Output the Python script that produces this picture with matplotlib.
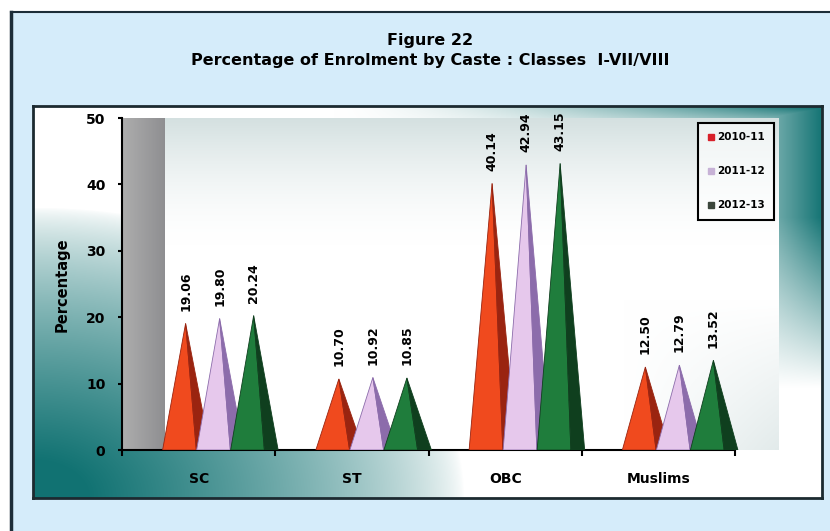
import matplotlib
matplotlib.use('Agg')
import numpy as np
import matplotlib.pyplot as plt
from matplotlib.patches import Polygon, Rectangle
from matplotlib.lines import Line2D

castes = ['SC', 'ST', 'OBC', 'Muslims']
years = ['2010-11', '2011-12', '2012-13']
pct_2010 = [19.06, 10.70, 40.14, 12.50]
pct_2011 = [19.80, 10.92, 42.94, 12.79]
pct_2012 = [20.24, 10.85, 43.15, 13.52]

front_cols = ['#f04a1e', '#e6c8ec', '#1f7d3c']
side_cols = ['#9a2410', '#8c6cab', '#0f3f1e']
legend_cols = ['#d8202a', '#c7b2d6', '#3b463b']

plt.rcParams['font.family'] = 'DejaVu Sans'
plt.rcParams['font.weight'] = 'bold'

W, H = 830, 531
fig = plt.figure(figsize=(W / 100, H / 100), dpi=100, facecolor='white')

def fx(px):
    return px / W

def fy(py):
    return 1 - py / H

# light blue page frame
fig.patches.append(Rectangle((fx(11), 0), 1, fy(12), transform=fig.transFigure,
                             facecolor='#d5ecfa', edgecolor='none', zorder=-5))
fig.add_artist(Line2D([fx(11), fx(11)], [0, fy(12)], color='#1d2d38', lw=2.5, zorder=-4))
fig.add_artist(Line2D([fx(11), 1], [fy(12), fy(12)], color='#1d2d38', lw=1.5, zorder=-4))

# panel with teal corner gradients
px0, px1, py0, py1 = 33, 822, 106, 498
bg = fig.add_axes([fx(px0), fy(py1), fx(px1 - px0), (py1 - py0) / H])
bg.set_zorder(-1)
Xp, Yp = np.meshgrid(np.arange(px1 - px0), np.arange(py1 - py0))
r = np.sqrt((Xp / 430.0) ** 2 + (Yp / 290.0) ** 2)
t1 = np.clip(1.15 * (1 - r), 0, 1) ** 0.7
t2 = np.clip(1 - (px1 - px0 - Xp) / 120.0, 0, 1) * np.clip((Yp - 110) / 170.0, 0, 1)
t3 = np.clip((Xp - 300) / 480.0, 0, 1) ** 1.5 * np.clip((Yp - 360) / 30.0, 0, 1)
t = np.clip(np.maximum(np.maximum(t1, t2), t3), 0, 1)
teal = np.array([0.07, 0.45, 0.45])
img = (1 - t[..., None]) * 1.0 + t[..., None] * teal
bg.imshow(img, origin='lower', extent=[0, 1, 0, 1], aspect='auto')
bg.set_xticks([])
bg.set_yticks([])
for s in bg.spines.values():
    s.set_color('#1c2a30')
    s.set_linewidth(2)

# chart area
ax_l, ax_r, ax_b, ax_t = 122, 778, 450, 118
ax = fig.add_axes([fx(ax_l), fy(ax_b), fx(ax_r - ax_l), (ax_b - ax_t) / H])
ax.patch.set_alpha(0)
cat_w = (735 - 122) / 4.0
xmax = (ax_r - ax_l) / cat_w
wall = (165 - 122) / cat_w
ax.set_xlim(0, xmax)
ax.set_ylim(0, 50)

# back plane gradient
gx, gy = np.meshgrid(np.linspace(0, 1, 300), np.linspace(0, 1, 200))
a_top = np.clip((gy - 0.62) / 0.38, 0, 1) ** 1.6 * 0.6
a_br = np.clip((gx - 0.75) / 0.25, 0, 1) * np.clip((0.45 - gy) / 0.45, 0, 1) * 0.4
a = np.maximum(a_top, a_br)
grey = np.array([0.72, 0.80, 0.80])
pimg = (1 - a[..., None]) * 1.0 + a[..., None] * grey
ax.imshow(pimg, origin='lower', extent=[wall, xmax, 0, 50], aspect='auto', zorder=0)

# side wall
wx = np.linspace(0, 1, 60)
wcol = np.array([0.68, 0.68, 0.68])[None, :] * (1 - wx[:, None]) + np.array([0.56, 0.56, 0.57])[None, :] * wx[:, None]
ax.imshow(wcol[None, :, :], origin='lower', extent=[0, wall, 0, 50], aspect='auto', zorder=0)

# pyramids: lit front face plus shaded right face
series = [pct_2010, pct_2011, pct_2012]
offsets = [-0.085, 0.137, 0.359]
for k, vals in enumerate(series):
    for i, v in enumerate(vals):
        cx = i + 0.5 + offsets[k]
        front = Polygon([(cx - 0.15, 0), (cx, v), (cx + 0.07, 0)], closed=True,
                        facecolor=front_cols[k], edgecolor=side_cols[k], lw=0.6, zorder=3 + k)
        side = Polygon([(cx + 0.07, 0), (cx, v), (cx + 0.16, 0)], closed=True,
                       facecolor=side_cols[k], edgecolor=side_cols[k], lw=0.6, zorder=3 + k)
        ax.add_patch(front)
        ax.add_patch(side)
        ax.text(cx, v + 1.9, f'{v:.2f}', rotation=90, ha='center', va='bottom',
                fontsize=9, fontweight='bold', zorder=10)

for side_name in ['top', 'right']:
    ax.spines[side_name].set_visible(False)
ax.spines['left'].set_linewidth(1.5)
ax.spines['bottom'].set_linewidth(1.5)
ax.spines['bottom'].set_bounds(0, 4)
ax.set_yticks([0, 10, 20, 30, 40, 50])
ax.set_yticklabels(['0', '10', '20', '30', '40', '50'], fontsize=10, fontweight='bold')
ax.set_xticks([0, 1, 2, 3, 4])
ax.set_xticklabels([])
ax.set_xticks([0.5, 1.5, 2.5, 3.5], minor=True)
ax.set_xticklabels(castes, minor=True, fontsize=10, fontweight='bold')
ax.tick_params(axis='y', length=3, width=1.5, pad=9)
ax.tick_params(axis='x', which='major', length=4, width=1.5)
ax.tick_params(axis='x', which='minor', length=0, pad=16)

fig.text(fx(62), fy(285), 'Percentage', rotation=90, ha='center', va='center',
         fontsize=10.5, fontweight='bold')

fig.text(fx(430), fy(41), 'Figure 22', ha='center', va='center', fontsize=11.5, fontweight='bold')
fig.text(fx(430), fy(60), 'Percentage of Enrolment by Caste : Classes  I-VII/VIII',
         ha='center', va='center', fontsize=11.5, fontweight='bold')

handles = [Line2D([], [], marker='s', ls='', markersize=5, color=c) for c in legend_cols]
leg = ax.legend(handles, years, loc='upper left', bbox_to_anchor=(fx(698), fy(123)),
                bbox_transform=fig.transFigure, frameon=True, fancybox=False,
                prop={'weight': 'bold', 'size': 7.5}, borderaxespad=0,
                labelspacing=2.3, handlelength=0.6, handletextpad=0.3, borderpad=0.9)
frame = leg.get_frame()
frame.set_alpha(None)
frame.set_facecolor((1, 1, 1, 0.6))
frame.set_edgecolor('black')
frame.set_linewidth(1.5)

fig.savefig('out.png', dpi=100, facecolor='white')
